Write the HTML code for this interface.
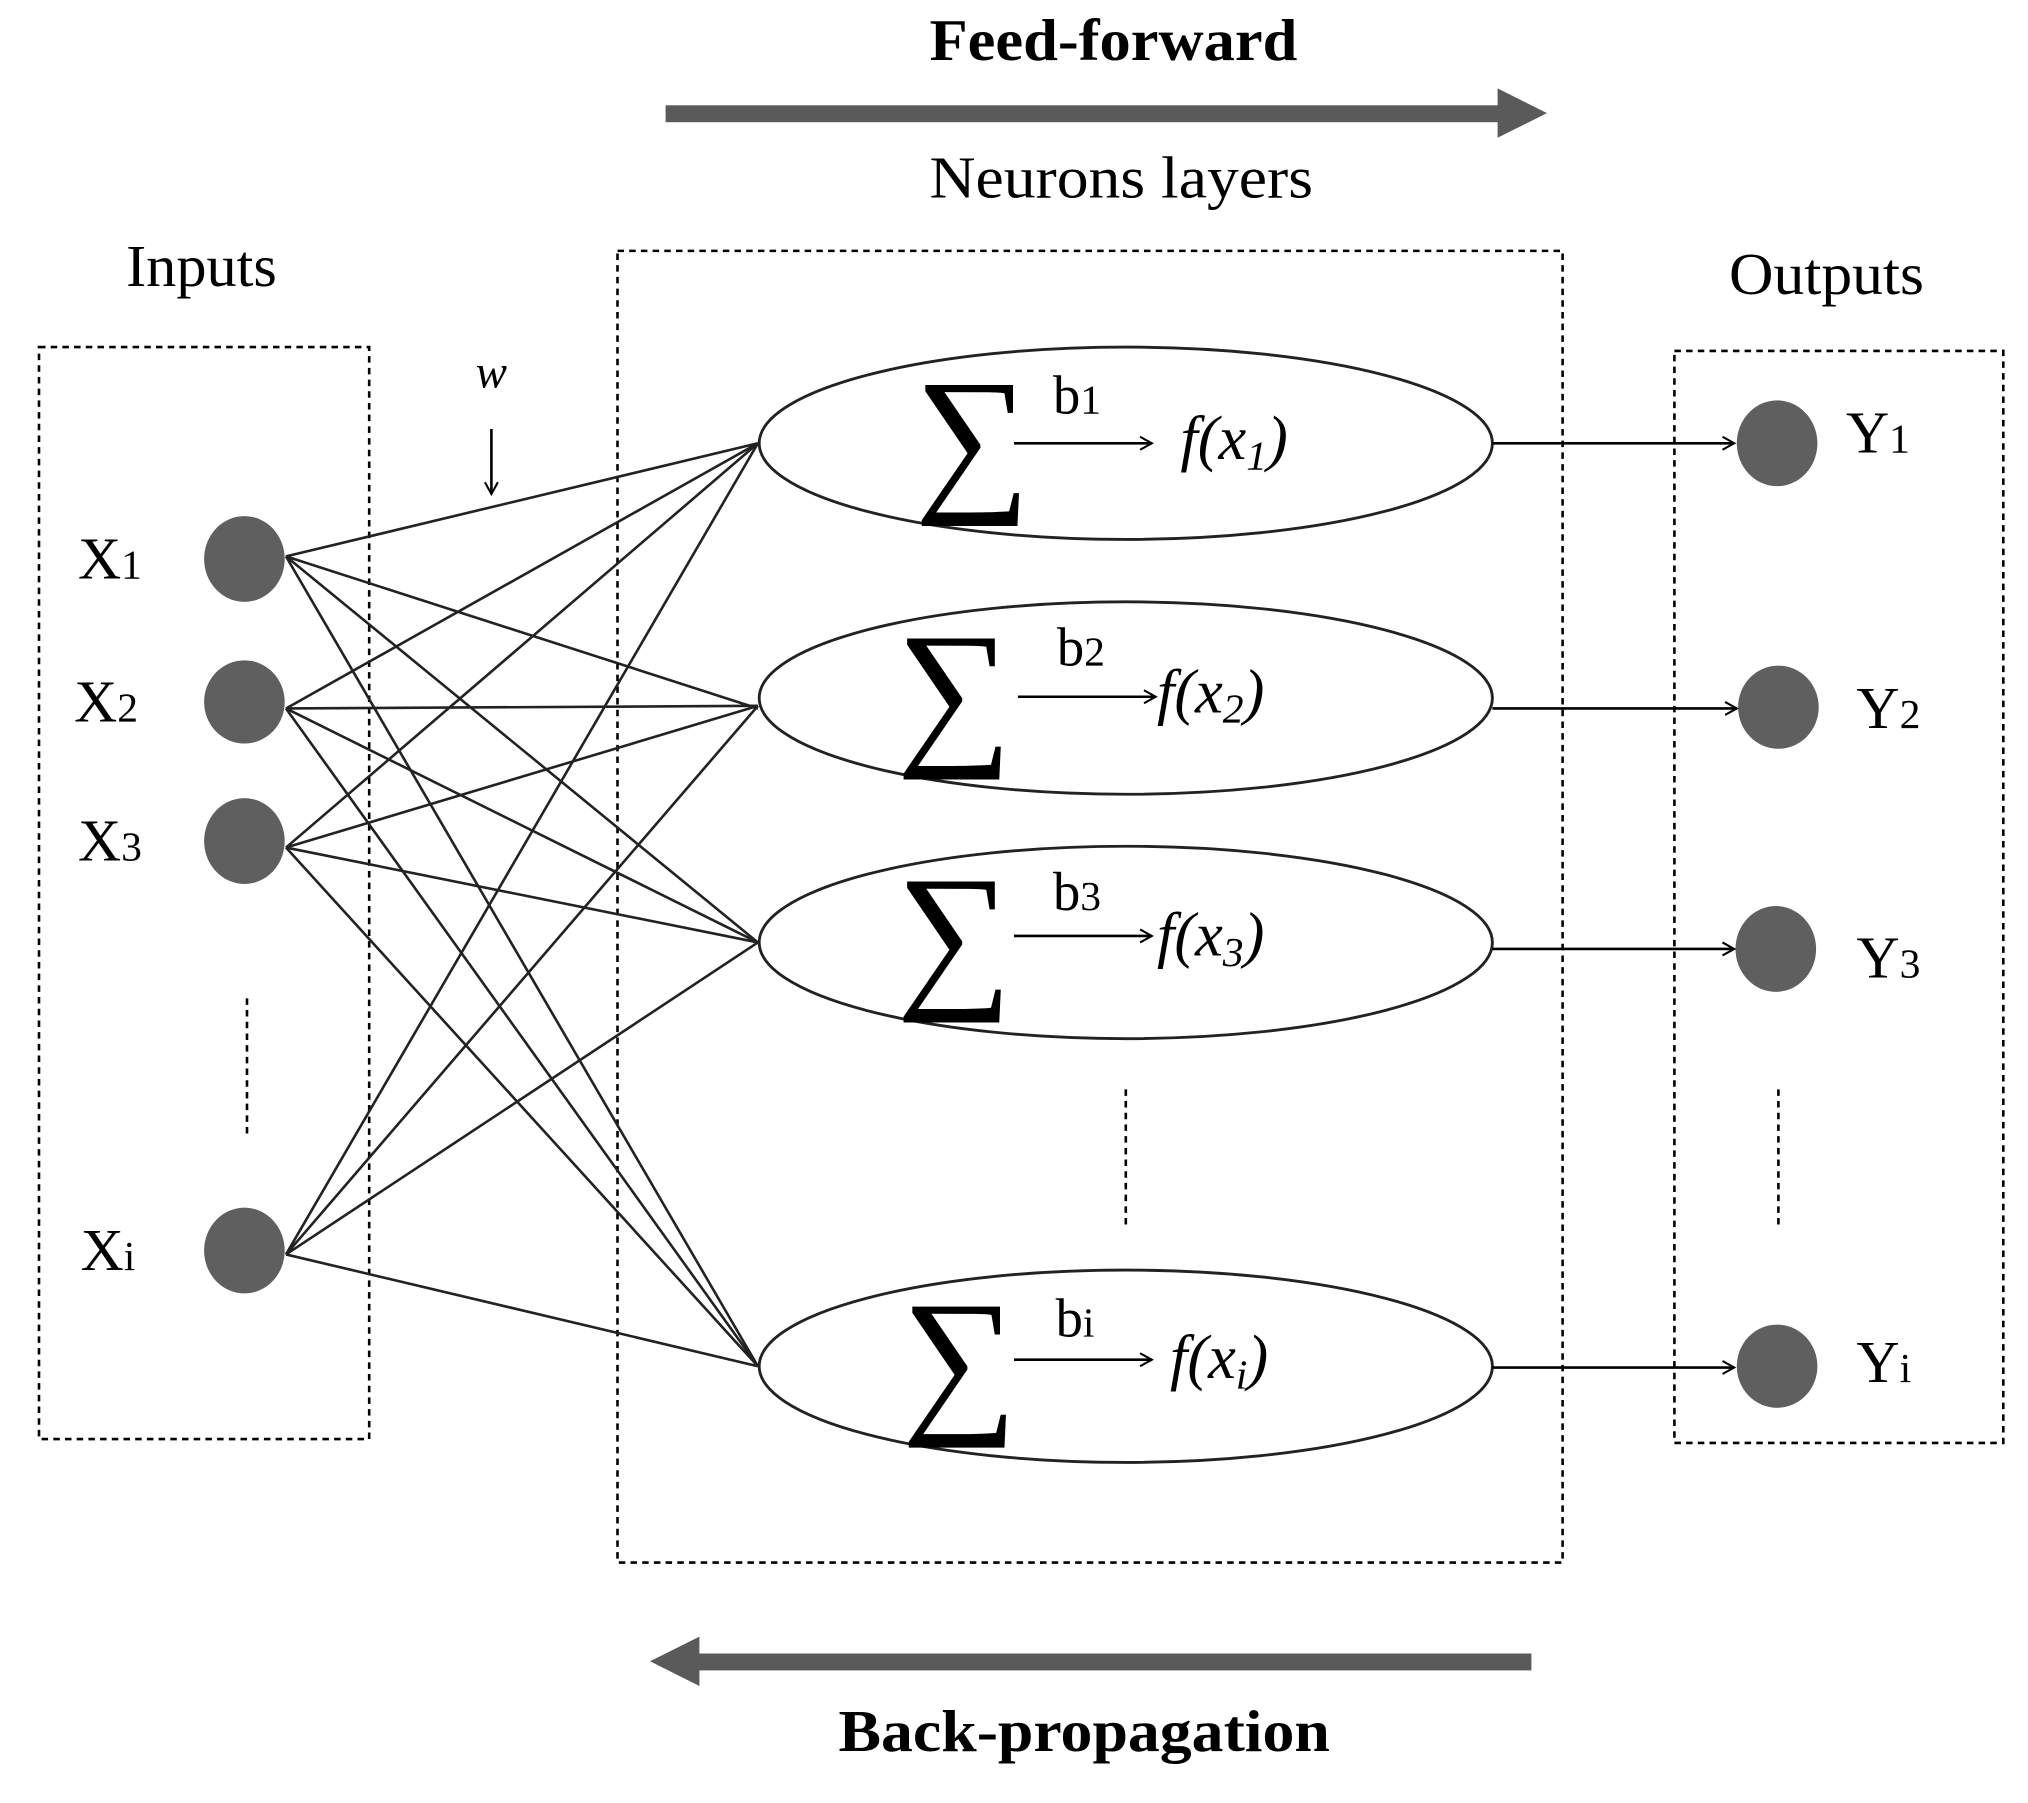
<!DOCTYPE html>
<html><head><meta charset="utf-8"><style>
html,body{margin:0;padding:0;background:#fff;}
svg{display:block;}
text{font-family:"Liberation Serif",serif;fill:#000;}
</style></head><body>
<svg width="2028" height="1803" viewBox="0 0 1560 1387" preserveAspectRatio="none" xmlns="http://www.w3.org/2000/svg">
<defs>
<marker id="oa" markerWidth="12" markerHeight="12" refX="10" refY="6" orient="auto" markerUnits="userSpaceOnUse">
<path d="M1,1 L10,6 L1,11" fill="none" stroke="#000" stroke-width="1.6"/>
</marker>
</defs>
<text x="715" y="46" font-size="46" font-weight="bold" textLength="283" lengthAdjust="spacingAndGlyphs">Feed-forward</text>
<rect x="512" y="81" width="642" height="13" fill="#5a5a5a"/>
<polygon points="1152,68 1190,87 1152,106" fill="#5a5a5a"/>
<text x="715" y="152" font-size="46" textLength="295" lengthAdjust="spacingAndGlyphs">Neurons layers</text>
<text x="97" y="220" font-size="46" textLength="116" lengthAdjust="spacingAndGlyphs">Inputs</text>
<text x="1330" y="226" font-size="46" textLength="150" lengthAdjust="spacingAndGlyphs">Outputs</text>

<g fill="none" stroke="#000" stroke-width="2" stroke-dasharray="5,4">
<rect x="30" y="267" width="254" height="840"/>
<rect x="475" y="193" width="727" height="1009"/>
<rect x="1288" y="270" width="253" height="840"/>
<line x1="190" y1="768" x2="190" y2="875"/>
<line x1="866" y1="838" x2="866" y2="945"/>
<line x1="1368" y1="838" x2="1368" y2="945"/>
</g>

<g stroke="#222" stroke-width="2">
<line x1="220" y1="428" x2="583" y2="341"/>
<line x1="220" y1="428" x2="583" y2="545"/>
<line x1="220" y1="428" x2="583" y2="725"/>
<line x1="220" y1="428" x2="583" y2="1051"/>
<line x1="220" y1="545" x2="583" y2="341"/>
<line x1="220" y1="545" x2="583" y2="543"/>
<line x1="220" y1="545" x2="583" y2="725"/>
<line x1="220" y1="545" x2="583" y2="1051"/>
<line x1="220" y1="652" x2="583" y2="341"/>
<line x1="220" y1="652" x2="583" y2="543"/>
<line x1="220" y1="652" x2="583" y2="725"/>
<line x1="220" y1="652" x2="583" y2="1051"/>
<line x1="220" y1="965" x2="583" y2="341"/>
<line x1="220" y1="965" x2="583" y2="543"/>
<line x1="220" y1="965" x2="583" y2="725"/>
<line x1="220" y1="965" x2="583" y2="1051"/>
</g>

<text x="378" y="298" font-size="36" font-style="italic" text-anchor="middle">w</text>
<line x1="378" y1="330" x2="378" y2="380" stroke="#000" stroke-width="2" marker-end="url(#oa)"/>

<g fill="#5f5f5f">
<ellipse cx="188" cy="430" rx="31" ry="33"/>
<ellipse cx="188" cy="540" rx="31" ry="32"/>
<ellipse cx="188" cy="647" rx="31" ry="33"/>
<ellipse cx="188" cy="962" rx="31" ry="33"/>
<ellipse cx="1367" cy="341" rx="31" ry="33"/>
<ellipse cx="1368" cy="544" rx="31" ry="32"/>
<ellipse cx="1366" cy="730" rx="31" ry="33"/>
<ellipse cx="1367" cy="1051" rx="31" ry="32"/>
</g>
<g font-size="46">
<text x="60" y="445">X<tspan font-size="32">1</tspan></text>
<text x="57" y="555">X<tspan font-size="32">2</tspan></text>
<text x="60" y="662">X<tspan font-size="32">3</tspan></text>
<text x="62" y="977">X<tspan font-size="32">i</tspan></text>
<text x="1420" y="348">Y<tspan font-size="32">1</tspan></text>
<text x="1428" y="560">Y<tspan font-size="32">2</tspan></text>
<text x="1428" y="752">Y<tspan font-size="32">3</tspan></text>
<text x="1428" y="1063">Y<tspan font-size="32">i</tspan></text>
</g>

<g fill="none" stroke="#222" stroke-width="2.2">
<ellipse cx="866" cy="341" rx="282" ry="74"/>
<ellipse cx="866" cy="537" rx="282" ry="74"/>
<ellipse cx="866" cy="725" rx="282" ry="74"/>
<ellipse cx="866" cy="1051" rx="282" ry="74"/>
</g>
<g stroke="#000" stroke-width="2">
<line x1="780" y1="341" x2="886" y2="341" marker-end="url(#oa)"/>
<line x1="783" y1="536" x2="889" y2="536" marker-end="url(#oa)"/>
<line x1="780" y1="720" x2="886" y2="720" marker-end="url(#oa)"/>
<line x1="780" y1="1046" x2="886" y2="1046" marker-end="url(#oa)"/>
<line x1="1148" y1="341" x2="1334" y2="341" marker-end="url(#oa)"/>
<line x1="1148" y1="545" x2="1336" y2="545" marker-end="url(#oa)"/>
<line x1="1148" y1="730" x2="1334" y2="730" marker-end="url(#oa)"/>
<line x1="1148" y1="1052" x2="1334" y2="1052" marker-end="url(#oa)"/>
</g>
<g font-size="125" text-anchor="middle">
<text x="748" y="378">∑</text>
<text x="734" y="573">∑</text>
<text x="734" y="760">∑</text>
<text x="738" y="1087">∑</text>
</g>
<g font-size="42">
<text x="810" y="318">b<tspan font-size="32">1</tspan></text>
<text x="813" y="512">b<tspan font-size="32">2</tspan></text>
<text x="810" y="700">b<tspan font-size="32">3</tspan></text>
<text x="812" y="1028">b<tspan font-size="32">i</tspan></text>
</g>
<g font-size="48" font-style="italic">
<text x="908" y="353">f(x<tspan font-size="32" dy="8">1</tspan><tspan dy="-8">)</tspan></text>
<text x="890" y="548">f(x<tspan font-size="32" dy="8">2</tspan><tspan dy="-8">)</tspan></text>
<text x="890" y="735">f(x<tspan font-size="32" dy="8">3</tspan><tspan dy="-8">)</tspan></text>
<text x="900" y="1060">f(x<tspan font-size="32" dy="8">i</tspan><tspan dy="-8">)</tspan></text>
</g>

<rect x="536" y="1272" width="642" height="13" fill="#5a5a5a"/>
<polygon points="538,1259 500,1278 538,1297" fill="#5a5a5a"/>
<text x="645" y="1347" font-size="46" font-weight="bold" textLength="378" lengthAdjust="spacingAndGlyphs">Back-propagation</text>
</svg>
</body></html>
